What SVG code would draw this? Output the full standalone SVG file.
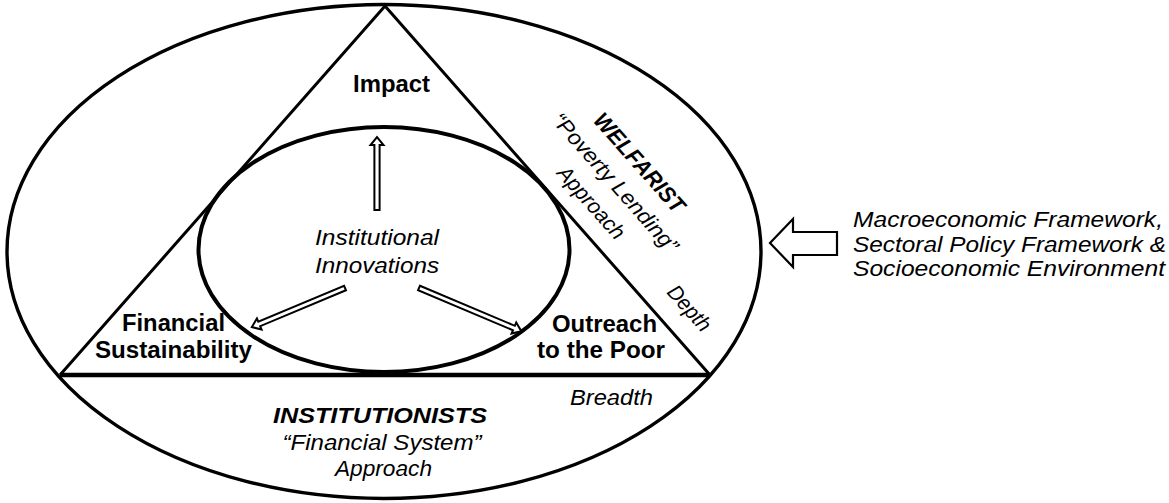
<svg xmlns="http://www.w3.org/2000/svg" width="1169" height="503" viewBox="0 0 1169 503">
  <style>
    .line { fill: none; stroke: #000; stroke-linejoin: miter; }
    .b { font-family: "Liberation Sans", Arial, sans-serif; font-weight: bold; font-size: 23.5px; fill: #000; }
    .i { font-family: "Liberation Sans", Arial, sans-serif; font-style: italic; font-size: 21.5px; fill: #000; }
    .bi { font-family: "Liberation Sans", Arial, sans-serif; font-style: italic; font-weight: bold; font-size: 22.5px; fill: #000; }
    .arrow { fill: #fff; stroke: #000; stroke-width: 2; stroke-linejoin: miter; }
    .block { fill: #fff; stroke: #000; stroke-width: 2.2; stroke-linejoin: miter; }
  </style>

  <!-- outer ellipse: the two schools of thought -->
  <g id="outer-ellipse">
    <ellipse class="line" cx="384" cy="251.5" rx="377" ry="247" stroke-width="3.4"/>
  </g>

  <!-- triangle of objectives -->
  <g id="triangle">
    <path class="line" d="M60,375 L385,6 L710,375" stroke-width="3"/>
    <line class="line" x1="60" y1="375" x2="710" y2="375" stroke-width="4.5"/>
  </g>

  <!-- inner ellipse -->
  <g id="innovations">
    <ellipse class="line" cx="384" cy="249.5" rx="185.5" ry="122.5" stroke-width="4"/>
    <text class="i" x="377" y="245" text-anchor="middle" textLength="124" lengthAdjust="spacingAndGlyphs">Institutional</text>
    <text class="i" x="377" y="273" text-anchor="middle" textLength="124" lengthAdjust="spacingAndGlyphs">Innovations</text>
  </g>

  <g id="impact">
    <text class="b" x="391.5" y="92" text-anchor="middle" textLength="77" lengthAdjust="spacingAndGlyphs">Impact</text>
  </g>

  <g id="financial-sustainability">
    <text class="b" x="173.5" y="331" text-anchor="middle" textLength="103" lengthAdjust="spacingAndGlyphs">Financial</text>
    <text class="b" x="173.5" y="358" text-anchor="middle" textLength="157" lengthAdjust="spacingAndGlyphs">Sustainability</text>
  </g>

  <g id="outreach">
    <text class="b" x="604.5" y="332" text-anchor="middle" textLength="105" lengthAdjust="spacingAndGlyphs">Outreach</text>
    <text class="b" x="601" y="358" text-anchor="middle" textLength="128" lengthAdjust="spacingAndGlyphs">to the Poor</text>
  </g>

  <g id="welfarist" transform="translate(615,183) rotate(48.5)">
    <text class="bi" x="1" y="-24" text-anchor="middle" textLength="125" lengthAdjust="spacingAndGlyphs">WELFARIST</text>
    <text class="i" x="0" y="7" text-anchor="middle" textLength="178" lengthAdjust="spacingAndGlyphs">“Poverty Lending”</text>
    <text class="i" x="-1" y="38" text-anchor="middle" textLength="90" lengthAdjust="spacingAndGlyphs">Approach</text>
  </g>

  <g id="depth" transform="translate(684,313) rotate(48.5)">
    <text class="i" x="0" y="0" text-anchor="middle" textLength="54" lengthAdjust="spacingAndGlyphs">Depth</text>
  </g>

  <g id="breadth">
    <text class="i" x="611.5" y="405" text-anchor="middle" textLength="83" lengthAdjust="spacingAndGlyphs">Breadth</text>
  </g>

  <g id="institutionists">
    <text class="bi" x="380" y="423" text-anchor="middle" textLength="214" lengthAdjust="spacingAndGlyphs">INSTITUTIONISTS</text>
    <text class="i" x="382" y="450" text-anchor="middle" textLength="199" lengthAdjust="spacingAndGlyphs">“Financial System”</text>
    <text class="i" x="383.5" y="476" text-anchor="middle" textLength="97" lengthAdjust="spacingAndGlyphs">Approach</text>
  </g>

  <g id="environment">
    <text class="i" x="853" y="227" textLength="310" lengthAdjust="spacingAndGlyphs">Macroeconomic Framework,</text>
    <text class="i" x="853" y="252" textLength="313" lengthAdjust="spacingAndGlyphs">Sectoral Policy Framework &amp;</text>
    <text class="i" x="853" y="276" textLength="312" lengthAdjust="spacingAndGlyphs">Socioeconomic Environment</text>
  </g>

  <!-- connectors -->
  <g id="connectors">
    <path class="arrow" transform="translate(377,210) rotate(-90)" d="M0,-2.6 H65 V-6.5 L73,0 L65,6.5 V2.6 H0 Z"/>
    <path class="arrow" transform="translate(345,288) rotate(157.25)" d="M0,-2.4 H93 V-6 L101,0 L93,6 V2.4 H0 Z"/>
    <path class="arrow" transform="translate(419,288) rotate(22.86)" d="M0,-2.4 H103 V-6 L111,0 L103,6 V2.4 H0 Z"/>
    <path class="block" d="M770,243 L793,219 L793,232 L837,232 L837,255 L793,255 L793,267 Z"/>
  </g>
</svg>
